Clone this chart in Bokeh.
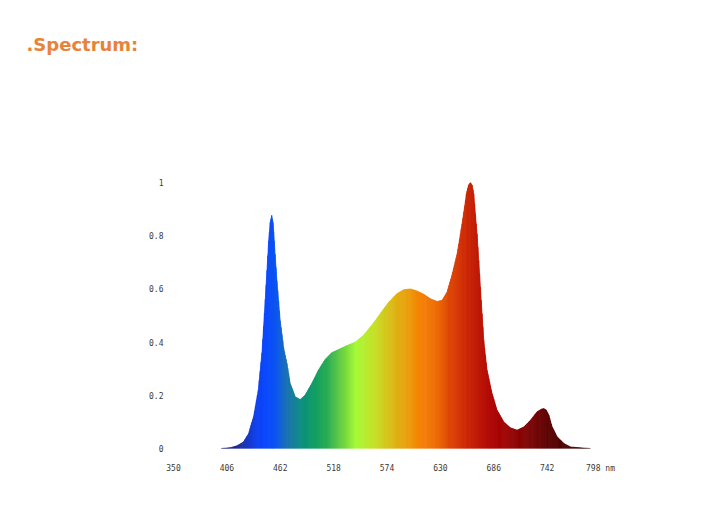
import numpy as np
from bokeh.plotting import figure
from bokeh.models import Range1d, FixedTicker, Title
from bokeh.embed import file_html
from bokeh.resources import INLINE

title_text = ".Spectrum:"

# Relative spectral intensity (wavelength in nm)
wavelength = [400, 409.5, 416.5, 423.5, 428.8, 434, 439, 442.8, 446.3, 449.8,
              451.5, 453, 454.4, 455.7, 458.5, 462, 465.5, 469, 472.5, 477.8,
              483, 488, 495, 502, 509, 516, 523, 532, 540.8, 549.5,
              558, 567, 575.8, 584.5, 591.5, 598.5, 605.5, 612.5, 619.5, 626.5,
              631.8, 637, 642, 647.5, 652.8, 657.3, 659.5, 661.5, 663.3, 665,
              668.5, 672, 675.5, 679, 684.3, 689.5, 696.5, 703.5, 710.5, 717.5,
              724.5, 731.5, 736, 738.5, 741, 743.8, 747.3, 752.5, 759.5, 766.5,
              775.3, 787.5]
intensity = [0.0, 0.003, 0.01, 0.025, 0.056, 0.12, 0.22, 0.36, 0.56, 0.78,
             0.85, 0.876, 0.85, 0.78, 0.63, 0.48, 0.38, 0.32, 0.244, 0.194,
             0.184, 0.2, 0.244, 0.294, 0.334, 0.36, 0.372, 0.387, 0.40, 0.426,
             0.463, 0.507, 0.55, 0.582, 0.597, 0.60, 0.592, 0.58, 0.563, 0.553,
             0.557, 0.588, 0.65, 0.73, 0.845, 0.957, 0.99, 1.0, 0.99, 0.957,
             0.807, 0.607, 0.407, 0.294, 0.206, 0.144, 0.10, 0.078, 0.069, 0.081,
             0.106, 0.138, 0.148, 0.15, 0.145, 0.125, 0.081, 0.044, 0.019, 0.006,
             0.003, 0.0]

# Colour of the fill by wavelength
stop_nm = [400, 420, 437, 447, 458, 469, 486, 500, 514, 528, 542, 563, 584,
           597, 609, 626, 640, 654, 668, 682, 696, 724, 745, 770, 790]
stop_color = ["#1c1c6e", "#1a2a9a", "#0a3cf0", "#0545ff", "#0852f0", "#1570b0",
              "#08907a", "#0a9c5a", "#30b050", "#6ad23c", "#a6fa34", "#c8dc20",
              "#e0b010", "#ec9a06", "#f58000", "#ee6a00", "#dd4400", "#d02a00",
              "#c01600", "#b00400", "#a00000", "#7a0000", "#5a0000", "#420000",
              "#300000"]

x_ticks = [350, 406, 462, 518, 574, 630, 686, 742, 798]
x_tick_labels = ["350", "406", "462", "518", "574", "630", "686", "742", "798 nm"]
y_ticks = [0, 0.2, 0.4, 0.6, 0.8, 1]
y_tick_labels = ["0", "0.2", "0.4", "0.6", "0.8", "1"]


def hex_to_rgb(h):
    h = h.lstrip("#")
    return np.array([int(h[i:i + 2], 16) for i in (0, 2, 4)], dtype=float)


stop_rgb = np.array([hex_to_rgb(c) for c in stop_color])


def color_at(nm):
    r = np.interp(nm, stop_nm, stop_rgb[:, 0])
    g = np.interp(nm, stop_nm, stop_rgb[:, 1])
    b = np.interp(nm, stop_nm, stop_rgb[:, 2])
    return "#%02x%02x%02x" % (int(round(r)), int(round(g)), int(round(b)))


W, H = 711, 515
p = figure(width=W, height=H,
           x_range=Range1d(350, 798), y_range=Range1d(0, 1),
           output_backend="svg", toolbar_location=None,
           min_border_left=173, min_border_right=111,
           min_border_top=182, min_border_bottom=67)
p.outline_line_color = None
p.grid.visible = False
p.background_fill_color = "white"
p.border_fill_color = "white"
p.title.text = ""

# spacer between the frame and the heading (first added sits next to the frame)
p.add_layout(Title(text=" ", standoff=110, text_font_size="10px"), "above")
p.add_layout(Title(text=title_text, align="left", offset=-147, standoff=10,
                   text_font="DejaVu Sans", text_font_style="bold",
                   text_font_size="18px", text_color="#E8833A"), "above")

# gradient-filled area: one trapezoid strip per ~1 nm along each segment
xs_list, ys_list, colors = [], [], []
for i in range(len(wavelength) - 1):
    x0, x1 = wavelength[i], wavelength[i + 1]
    y0, y1 = intensity[i], intensity[i + 1]
    n = max(1, int(np.ceil((x1 - x0) / 1.0)))
    for k in range(n):
        a = x0 + (x1 - x0) * k / n
        b = x0 + (x1 - x0) * (k + 1) / n
        ya = y0 + (y1 - y0) * k / n
        yb = y0 + (y1 - y0) * (k + 1) / n
        xs_list.append([a, a, b, b])
        ys_list.append([0, ya, yb, 0])
        colors.append(color_at((a + b) / 2))

p.patches(xs_list, ys_list, fill_color=colors, line_color=colors, line_width=0.6)

for ax in (p.xaxis[0], p.yaxis[0]):
    ax.axis_line_color = None
    ax.major_tick_line_color = None
    ax.minor_tick_line_color = None
    ax.major_tick_out = 0
    ax.major_tick_in = 0
    ax.major_label_text_font = "DejaVu Sans Mono"
    ax.major_label_text_font_size = "8px"
    ax.major_label_text_color = "#3a3a3a"

p.xaxis.ticker = FixedTicker(ticks=x_ticks)
p.xaxis.major_label_overrides = {t: l for t, l in zip(x_ticks, x_tick_labels)}
p.xaxis.major_label_standoff = 15
p.yaxis.ticker = FixedTicker(ticks=y_ticks)
p.yaxis.major_label_overrides = {t: l for t, l in zip(y_ticks, y_tick_labels)}
p.yaxis.major_label_standoff = 10

open("out.html", "w").write(file_html(p, INLINE))
